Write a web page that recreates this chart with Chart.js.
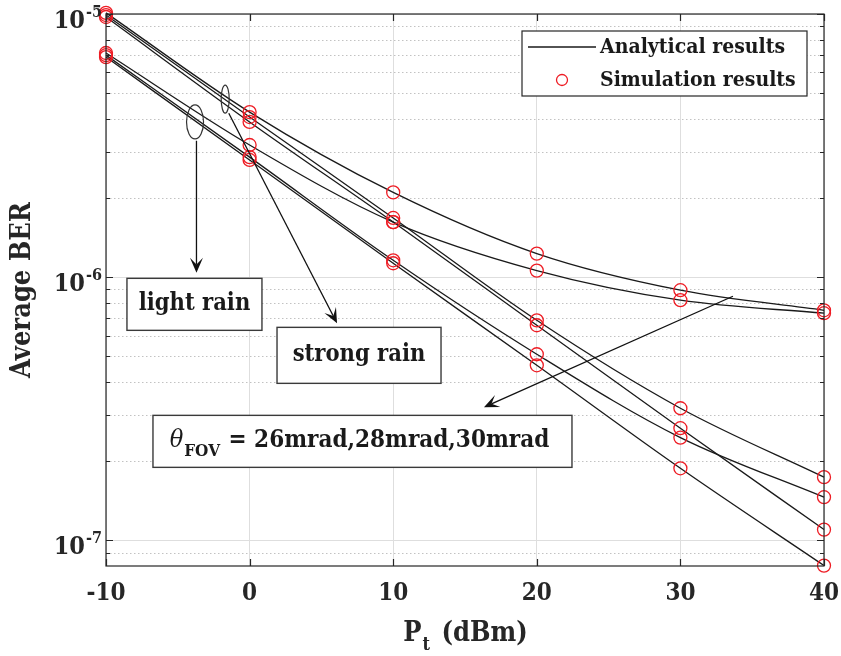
<!DOCTYPE html>
<html>
<head>
<meta charset="utf-8">
<script src="https://cdn.jsdelivr.net/npm/chart.js@4.4.0/dist/chart.umd.min.js"></script>
<style>
  html, body { margin: 0; padding: 0; background: #fff; }
  #wrap { width: 841px; height: 656px; }
</style>
</head>
<body>
<div id="wrap"><canvas id="ber" width="841" height="656"></canvas></div>
<script>
// Transmit power grid (dBm)
const powerDbm = [-10, 0, 10, 20, 30, 40];

// Average BER, strong rain, three receiver fields of view
const berStrongA = [1.01e-5, 4.24e-6, 2.10e-6, 1.23e-6, 8.93e-7, 7.49e-7];
const berStrongB = [9.91e-6, 4.06e-6, 1.68e-6, 6.86e-7, 3.18e-7, 1.74e-7];
const berStrongC = [9.74e-6, 3.89e-6, 1.62e-6, 6.57e-7, 2.67e-7, 1.10e-7];

// Average BER, light rain, three receiver fields of view
const berLightA = [7.11e-6, 3.18e-6, 1.62e-6, 1.06e-6, 8.18e-7, 7.30e-7];
const berLightB = [6.98e-6, 2.86e-6, 1.16e-6, 5.10e-7, 2.46e-7, 1.46e-7];
const berLightC = [6.86e-6, 2.79e-6, 1.13e-6, 4.63e-7, 1.88e-7, 8.03e-8];

// Axis ticks
const xTickValues = [-10, 0, 10, 20, 30, 40];
const yDecades = [1e-7, 1e-6, 1e-5];

const legendLabels = ['Analytical results', 'Simulation results'];

// Callout anchors in axis units (dBm, BER)
const rainEllipses = [
  { pt: -3.8, ber: 3.89e-6, rx: 8.5, ry: 17 },
  { pt: -1.7, ber: 4.75e-6, rx: 4, ry: 14 }
];
const calloutArrows = [
  { from: [-3.7, 3.30e-6], to: [-3.7, 1.04e-6] },
  { from: [-1.45, 4.2e-6], to: [6.09, 6.68e-7] },
  { from: [33.66, 8.47e-7], to: [16.32, 3.21e-7] }
];
const rainLabels = [
  { text: 'light rain', pt: -3.84, ber: 7.89e-7, w: 135, h: 52 },
  { text: 'strong rain', pt: 7.62, ber: 5.05e-7, w: 164, h: 56 }
];
const fovLabel = { symbol: 'θ', sub: 'FOV', text: ' = 26mrad,28mrad,30mrad', pt: 7.86, ber: 2.38e-7, w: 419, h: 52 };

const FAMILY = "'DejaVu Serif Condensed', 'DejaVu Serif', serif";
const INK = '#1a1a1a';
const AXIS = '#262626';
const RED = '#ee1c24';

const curves = [berStrongA, berStrongB, berStrongC, berLightA, berLightB, berLightC];
const toPoints = arr => powerDbm.map((x, i) => ({ x, y: arr[i] }));

const datasets = [];
curves.forEach((arr, k) => {
  datasets.push({
    type: 'line',
    label: k === 0 ? legendLabels[0] : '',
    data: toPoints(arr),
    borderColor: INK,
    borderWidth: 1.3,
    pointRadius: 0,
    cubicInterpolationMode: 'monotone',
    fill: false,
    clip: false,
    order: 2
  });
});
curves.forEach((arr, k) => {
  datasets.push({
    type: 'line',
    label: k === 0 ? legendLabels[1] : '',
    data: toPoints(arr),
    showLine: false,
    pointStyle: 'circle',
    pointRadius: 6.5,
    pointBorderWidth: 1.3,
    pointBorderColor: RED,
    pointBackgroundColor: 'rgba(0,0,0,0)',
    clip: false,
    order: 1
  });
});

function minorValues(min, max) {
  const out = [];
  for (let e = -8; e <= -5; e++) {
    for (let m = 2; m <= 9; m++) {
      const v = m * Math.pow(10, e);
      if (v > min * 1.0001 && v < max * 0.9999) out.push(v);
    }
  }
  return out;
}

function arrow(ctx, x1, y1, x2, y2) {
  const ang = Math.atan2(y2 - y1, x2 - x1);
  const L = 15, W = 6.5, notch = 0.55;
  ctx.beginPath();
  ctx.moveTo(x1, y1);
  ctx.lineTo(x2 - Math.cos(ang) * L * notch, y2 - Math.sin(ang) * L * notch);
  ctx.stroke();
  ctx.save();
  ctx.translate(x2, y2);
  ctx.rotate(ang);
  ctx.beginPath();
  ctx.moveTo(0, 0);
  ctx.lineTo(-L, -W);
  ctx.lineTo(-L * notch, 0);
  ctx.lineTo(-L, W);
  ctx.closePath();
  ctx.fill();
  ctx.restore();
}

const decor = {
  id: 'decor',
  beforeDatasetsDraw(chart) {
    const { ctx, chartArea: a, scales: { y } } = chart;
    ctx.save();
    ctx.strokeStyle = '#c2c2c2';
    ctx.lineWidth = 1;
    ctx.setLineDash([1.5, 2.5]);
    minorValues(y.min, y.max).forEach(v => {
      const yy = Math.round(y.getPixelForValue(v)) + 0.5;
      ctx.beginPath();
      ctx.moveTo(a.left, yy);
      ctx.lineTo(a.right, yy);
      ctx.stroke();
    });
    ctx.restore();
  },
  afterDatasetsDraw(chart) {
    const { ctx, chartArea: a, scales: { x, y } } = chart;
    const px = v => x.getPixelForValue(v);
    const py = v => y.getPixelForValue(v);
    ctx.save();

    // axes box with inward ticks
    ctx.strokeStyle = AXIS;
    ctx.lineWidth = 1.2;
    ctx.strokeRect(a.left, a.top, a.right - a.left, a.bottom - a.top);
    ctx.beginPath();
    xTickValues.forEach(v => {
      const xx = Math.round(px(v)) + 0.5;
      ctx.moveTo(xx, a.bottom); ctx.lineTo(xx, a.bottom - 7);
      ctx.moveTo(xx, a.top); ctx.lineTo(xx, a.top + 7);
    });
    yDecades.forEach(v => {
      const yy = Math.round(py(v)) + 0.5;
      ctx.moveTo(a.left, yy); ctx.lineTo(a.left + 7, yy);
      ctx.moveTo(a.right, yy); ctx.lineTo(a.right - 7, yy);
    });
    minorValues(y.min, y.max).forEach(v => {
      const yy = Math.round(py(v)) + 0.5;
      ctx.moveTo(a.left, yy); ctx.lineTo(a.left + 4, yy);
      ctx.moveTo(a.right, yy); ctx.lineTo(a.right - 4, yy);
    });
    ctx.stroke();

    // decade tick labels 10^n
    ctx.fillStyle = AXIS;
    ctx.textBaseline = 'alphabetic';
    yDecades.forEach(v => {
      const yy = py(v);
      const expo = String(Math.round(Math.log10(v)));
      ctx.font = `bold 16px ${FAMILY}`;
      const ws = ctx.measureText(expo).width;
      const right = a.left - 4;
      ctx.textAlign = 'left';
      ctx.fillText(expo, right - ws, yy + 3);
      ctx.font = `bold 25px ${FAMILY}`;
      ctx.textAlign = 'right';
      ctx.fillText('10', right - ws - 1, yy + 14);
    });

    // x axis title P_t (dBm)
    {
      const big = `bold 27px ${FAMILY}`, small = `bold 18px ${FAMILY}`;
      ctx.font = big; const w1 = ctx.measureText('P').width; const w3 = ctx.measureText(' (dBm)').width;
      ctx.font = small; const w2 = ctx.measureText('t').width + 3;
      let sx = (a.left + a.right) / 2 - (w1 + w2 + w3) / 2;
      const base = 641;
      ctx.textAlign = 'left';
      ctx.font = big; ctx.fillText('P', sx, base); sx += w1 + 1;
      ctx.font = small; ctx.fillText('t', sx, base + 9); sx += w2;
      ctx.font = big; ctx.fillText(' (dBm)', sx, base);
    }

    // ellipses grouping the rain conditions
    ctx.strokeStyle = '#333';
    ctx.lineWidth = 1.2;
    rainEllipses.forEach(e => {
      ctx.beginPath();
      ctx.ellipse(px(e.pt), py(e.ber), e.rx, e.ry, 0, 0, Math.PI * 2);
      ctx.stroke();
    });

    // arrows
    ctx.strokeStyle = '#111';
    ctx.fillStyle = '#111';
    ctx.lineWidth = 1.3;
    calloutArrows.forEach(r => arrow(ctx, px(r.from[0]), py(r.from[1]), px(r.to[0]), py(r.to[1])));

    // boxed labels
    const box = (cx, cy, w, h) => {
      ctx.fillStyle = '#fff';
      ctx.fillRect(cx - w / 2, cy - h / 2, w, h);
      ctx.strokeStyle = '#3a3a3a';
      ctx.lineWidth = 1.4;
      ctx.strokeRect(cx - w / 2, cy - h / 2, w, h);
    };
    rainLabels.forEach(l => {
      const cx = px(l.pt), cy = py(l.ber);
      box(cx, cy, l.w, l.h);
      ctx.fillStyle = INK;
      ctx.font = `bold 23.5px ${FAMILY}`;
      ctx.textAlign = 'center';
      ctx.textBaseline = 'middle';
      ctx.fillText(l.text, cx, cy);
    });
    {
      const l = fovLabel;
      const cx = px(l.pt), cy = py(l.ber);
      box(cx, cy, l.w, l.h);
      const fSym = `italic 25px ${FAMILY}`, fSub = `bold 17px ${FAMILY}`, fTxt = `bold 24px ${FAMILY}`;
      ctx.font = fSym; const w1 = ctx.measureText(l.symbol).width;
      ctx.font = fSub; const w2 = ctx.measureText(l.sub).width;
      ctx.font = fTxt; const w3 = ctx.measureText(l.text).width;
      let sx = cx - (w1 + w2 + w3 + 2) / 2 - 3;
      const base = cy + 6;
      ctx.fillStyle = INK;
      ctx.textAlign = 'left';
      ctx.textBaseline = 'alphabetic';
      ctx.font = fSym; ctx.fillText(l.symbol, sx, base); sx += w1 + 1;
      ctx.font = fSub; ctx.fillText(l.sub, sx, base + 9); sx += w2 + 1;
      ctx.font = fTxt; ctx.fillText(l.text, sx, base);
    }

    // legend
    {
      const lw = 285, lh = 65;
      const lx = a.right - 17 - lw, ly = a.top + 17;
      ctx.fillStyle = '#fff';
      ctx.fillRect(lx, ly, lw, lh);
      ctx.strokeStyle = AXIS;
      ctx.lineWidth = 1.2;
      ctx.strokeRect(lx, ly, lw, lh);
      const r1 = ly + 16, r2 = ly + 49;
      ctx.strokeStyle = INK;
      ctx.lineWidth = 1.3;
      ctx.beginPath(); ctx.moveTo(lx + 6, r1); ctx.lineTo(lx + 74, r1); ctx.stroke();
      ctx.strokeStyle = RED;
      ctx.beginPath(); ctx.arc(lx + 40, r2, 5.5, 0, Math.PI * 2); ctx.stroke();
      ctx.fillStyle = INK;
      ctx.font = `bold 21px ${FAMILY}`;
      ctx.textAlign = 'left';
      ctx.textBaseline = 'middle';
      ctx.fillText(legendLabels[0], lx + 78, r1 + 1);
      ctx.fillText(legendLabels[1], lx + 78, r2 + 1);
    }
    ctx.restore();
  }
};

new Chart(document.getElementById('ber'), {
  data: { datasets },
  options: {
    responsive: false,
    animation: false,
    devicePixelRatio: 1,
    layout: { padding: { left: 0, right: 17, top: 14, bottom: 0 } },
    plugins: { legend: { display: false }, tooltip: { enabled: false } },
    scales: {
      x: {
        type: 'linear',
        min: -10,
        max: 40,
        afterBuildTicks: s => { s.ticks = xTickValues.map(v => ({ value: v })); },
        afterFit: s => { s.height = 90; s.paddingLeft = 0; s.paddingRight = 0; },
        ticks: {
          color: AXIS,
          padding: 13,
          font: { family: FAMILY, size: 24, weight: 'bold' }
        },
        grid: { color: '#dedede', lineWidth: 1, drawTicks: false },
        border: { display: false }
      },
      y: {
        type: 'logarithmic',
        min: 8e-8,
        max: 1e-5,
        afterBuildTicks: s => { s.ticks = yDecades.map(v => ({ value: v, major: true })); },
        afterFit: s => { s.width = 106; s.paddingTop = 0; s.paddingBottom = 0; },
        ticks: { display: false },
        title: {
          display: true,
          text: 'Average BER',
          color: AXIS,
          padding: { top: 7, bottom: 0 },
          font: { family: FAMILY, size: 27, weight: 'bold' }
        },
        grid: { color: '#dedede', lineWidth: 1, drawTicks: false },
        border: { display: false }
      }
    }
  },
  plugins: [decor]
});
</script>
</body>
</html>
